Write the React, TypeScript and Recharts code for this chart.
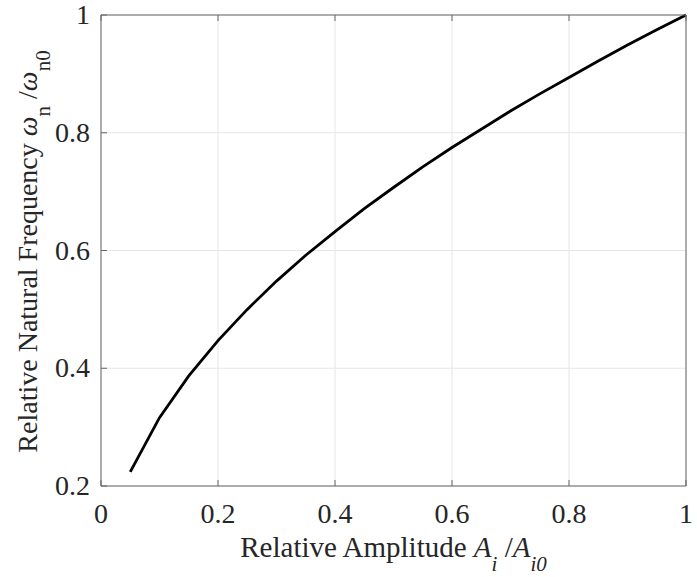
import { CartesianGrid, Label, Line, LineChart, XAxis, YAxis } from "recharts";

// relative amplitude A_i / A_i0
const amplitude = [
	0.05, 0.1, 0.15, 0.2, 0.25, 0.3, 0.35, 0.4, 0.45, 0.5, 0.55, 0.6, 0.65, 0.7,
	0.75, 0.8, 0.85, 0.9, 0.95, 1.0,
];
// relative natural frequency w_n / w_n0
const frequency = [
	0.224, 0.316, 0.387, 0.447, 0.5, 0.548, 0.592, 0.632, 0.671, 0.707, 0.742,
	0.775, 0.806, 0.837, 0.866, 0.894, 0.922, 0.949, 0.975, 1.0,
];
const xTicks = [0, 0.2, 0.4, 0.6, 0.8, 1];
const yTicks = [0.2, 0.4, 0.6, 0.8, 1];

const data = amplitude.map((a, i) => ({ a, f: frequency[i] }));

const FONT = "Liberation Serif, DejaVu Serif, serif";
const AXIS = "#666";
const TICK_LEN = 6;
const txt = { fontFamily: FONT, fontSize: 28, fill: "#262626" };

function BottomTick(props: any) {
	const { x, y, payload } = props;
	return (
		<g>
			<line x1={x} x2={x} y1={y} y2={y - TICK_LEN} stroke={AXIS} />
			<text x={x} y={y + 37} textAnchor="middle" style={txt}>
				{String(payload.value)}
			</text>
		</g>
	);
}

function LeftTick(props: any) {
	const { x, y, payload } = props;
	return (
		<g>
			<line x1={x} x2={x + TICK_LEN} y1={y} y2={y} stroke={AXIS} />
			<text x={x - 11} y={y + 9} textAnchor="end" style={txt}>
				{String(payload.value)}
			</text>
		</g>
	);
}

function TopTick(props: any) {
	const { x, y } = props;
	return <line x1={x} x2={x} y1={y} y2={y + TICK_LEN} stroke={AXIS} />;
}

function RightTick(props: any) {
	const { x, y } = props;
	return <line x1={x} x2={x - TICK_LEN} y1={y} y2={y} stroke={AXIS} />;
}

function XLabel(props: any) {
	const vb = props.viewBox;
	const cx = vb.x + vb.width / 2;
	return (
		<text x={cx} y={557} textAnchor="middle" style={{ ...txt, fontSize: 29 }}>
			Relative Amplitude{" "}
			<tspan fontStyle="italic">A</tspan>
			<tspan fontStyle="italic" fontSize={21} dy={14}>
				i
			</tspan>
			<tspan dy={-14}> /</tspan>
			<tspan fontStyle="italic">A</tspan>
			<tspan fontStyle="italic" fontSize={21} dy={14}>
				i0
			</tspan>
		</text>
	);
}

function YLabel(props: any) {
	const vb = props.viewBox;
	const cy = vb.y + vb.height / 2;
	return (
		<text
			x={0}
			y={0}
			transform={`translate(37, ${cy + 1}) rotate(-90)`}
			textAnchor="middle"
			style={txt}
		>
			Relative Natural Frequency{" "}
			<tspan fontStyle="italic">ω</tspan>
			<tspan fontSize={21} dy={13}>
				n
			</tspan>
			<tspan dy={-13}> /</tspan>
			<tspan fontStyle="italic">ω</tspan>
			<tspan fontSize={21} dy={13}>
				n0
			</tspan>
		</text>
	);
}

export default function App() {
	return (
		<div style={{ position: "absolute", left: 0, top: 0, background: "#fff" }}>
			<LineChart
				width={697}
				height={577}
				data={data}
				margin={{ top: 14, right: 10, bottom: 0, left: 0 }}
			>
				<CartesianGrid
					xAxisId="b"
					yAxisId="l"
					stroke="#e6e6e6"
					strokeWidth={1}
				/>
				<XAxis
					xAxisId="b"
					type="number"
					dataKey="a"
					domain={[0, 1]}
					ticks={xTicks}
					height={91}
					stroke={AXIS}
					tickSize={0}
					tickMargin={0}
					tick={<BottomTick />}
					interval={0}
				>
					<Label content={<XLabel />} />
				</XAxis>
				<XAxis
					xAxisId="t"
					orientation="top"
					type="number"
					dataKey="a"
					domain={[0, 1]}
					ticks={xTicks}
					height={1}
					stroke={AXIS}
					tickSize={0}
					tickMargin={0}
					tick={<TopTick />}
					interval={0}
				/>
				<YAxis
					yAxisId="l"
					type="number"
					domain={[0.2, 1]}
					ticks={yTicks}
					width={101}
					stroke={AXIS}
					tickSize={0}
					tickMargin={0}
					tick={<LeftTick />}
					interval={0}
				>
					<Label content={<YLabel />} />
				</YAxis>
				<YAxis
					yAxisId="r"
					orientation="right"
					type="number"
					domain={[0.2, 1]}
					ticks={yTicks}
					width={1}
					stroke={AXIS}
					tickSize={0}
					tickMargin={0}
					tick={<RightTick />}
					interval={0}
				/>
				<Line
					xAxisId="b"
					yAxisId="l"
					type="linear"
					dataKey="f"
					stroke="#000"
					strokeWidth={2.8}
					dot={false}
					isAnimationActive={false}
				/>
			</LineChart>
		</div>
	);
}
